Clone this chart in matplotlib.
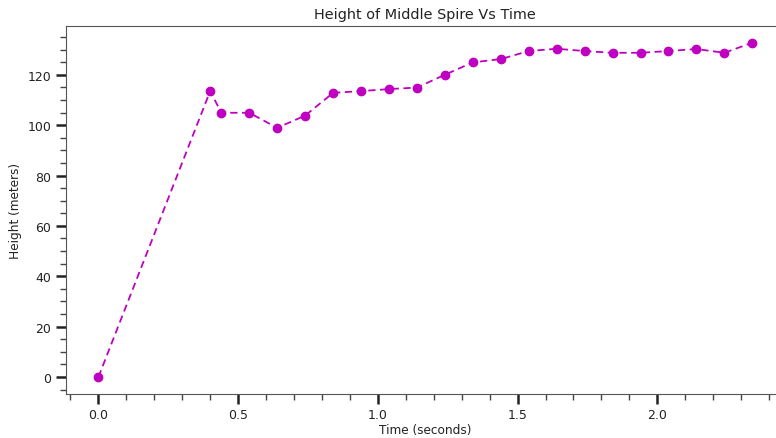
import matplotlib
matplotlib.use("Agg")
import matplotlib.pyplot as plt
from matplotlib.ticker import MultipleLocator

time_s = [0.0, 0.40, 0.44, 0.54, 0.64, 0.74, 0.84, 0.94, 1.04, 1.14, 1.24,
          1.34, 1.44, 1.54, 1.64, 1.74, 1.84, 1.94, 2.04, 2.14, 2.24, 2.34]
height_m = [0.0, 113.5, 104.9, 104.9, 98.9, 103.8, 112.8, 113.5, 114.3, 114.9, 120.0,
            124.9, 126.2, 129.4, 130.3, 129.4, 128.7, 128.7, 129.4, 130.2, 128.7, 132.7]

fig = plt.figure(figsize=(7.76, 4.39), dpi=100)
ax = fig.add_axes([65.7 / 776, 44.2 / 439, 719.3 / 776, 367.8 / 439])

ax.plot(time_s, height_m, linestyle="--", marker="o", color="#c000c0",
        linewidth=1.3, markersize=6, dashes=(4, 2.5))

ax.set_title("Height of Middle Spire Vs Time", fontsize=10.4, color="#222222")
ax.set_xlabel("Time (seconds)", fontsize=8.7, color="#222222", labelpad=1.5)
ax.set_ylabel("Height (meters)", fontsize=8.7, color="#222222")

ax.xaxis.set_major_locator(MultipleLocator(0.5))
ax.xaxis.set_minor_locator(MultipleLocator(0.1))
ax.yaxis.set_major_locator(MultipleLocator(20))
ax.yaxis.set_minor_locator(MultipleLocator(5))
ax.tick_params(which="major", length=7, width=1.8, labelsize=9, labelcolor="#222222",
               color="#222222")
ax.tick_params(which="minor", length=4, width=1, color="#444444")

for sp in ax.spines.values():
    sp.set_color("#555555")

fig.savefig("out.png", dpi=100)
